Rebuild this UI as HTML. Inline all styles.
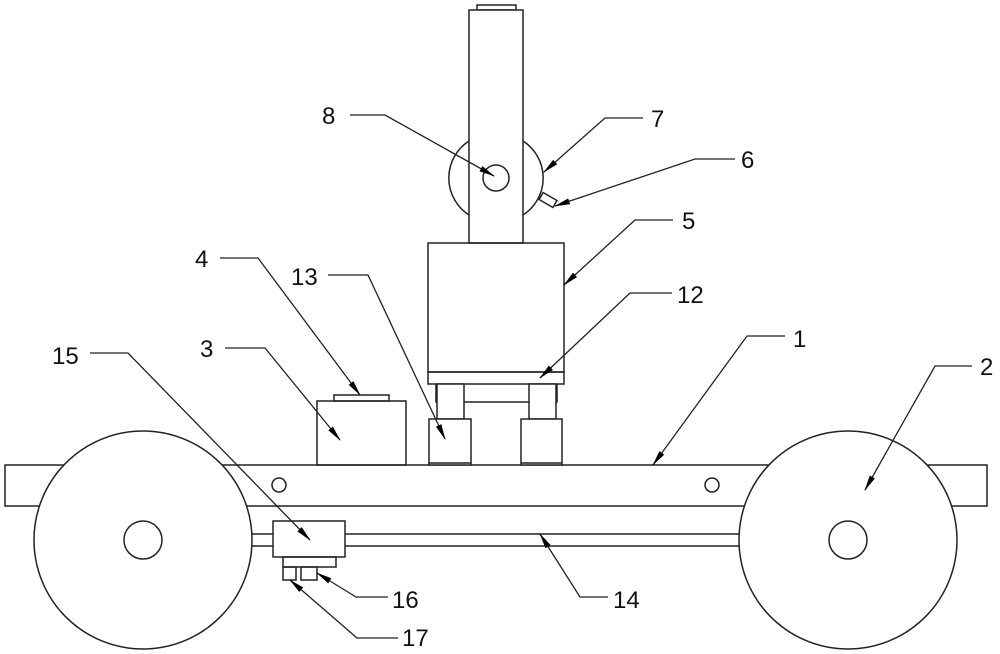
<!DOCTYPE html>
<html><head><style>body{margin:0;background:#fff}svg{display:block}text{font-family:"Liberation Sans",sans-serif;font-size:24px;fill:#111}</style></head>
<body>
<svg width="1000" height="654" viewBox="0 0 1000 654">
<defs><marker id="a" markerWidth="16" markerHeight="8" refX="15" refY="4" orient="auto" markerUnits="userSpaceOnUse"><path d="M0,1 L16,4 L0,7z" fill="#000"/></marker></defs>
<g fill="none" stroke="#222" stroke-width="1.5">
<rect x="5" y="465" width="982" height="41" fill="#fff"/>
<rect x="250" y="534" width="492" height="12" fill="#fff"/>
<circle cx="143" cy="540" r="109" fill="#fff"/>
<circle cx="143" cy="540" r="19"/>
<circle cx="848" cy="540" r="109" fill="#fff"/>
<circle cx="848" cy="540" r="19"/>
<circle cx="279" cy="485" r="7"/>
<circle cx="712" cy="485" r="7"/>
<rect x="273" y="521" width="72" height="36" fill="#fff"/>
<rect x="283" y="557" width="53" height="10"/>
<rect x="283" y="567" width="13" height="13"/>
<rect x="301" y="567" width="16" height="13"/>
<rect x="317" y="401" width="89" height="64"/>
<rect x="334" y="395" width="55" height="6"/>
<rect x="477" y="5" width="39" height="5"/>
<path d="M469,141 A44,44 0 0 0 469,215"/>
<path d="M523,141 A44,44 0 0 1 523,215"/>
<rect x="469" y="10" width="54" height="233" fill="#fff"/>
<circle cx="496" cy="178" r="13"/>
<rect x="540" y="196" width="16" height="8" transform="rotate(30 548 200)"/>
<rect x="428" y="243" width="136" height="129"/>
<rect x="428" y="372" width="136" height="12"/>
<path d="M436,384 V402 H557 V384"/>
<rect x="437" y="384" width="27" height="35" fill="#fff"/>
<rect x="529" y="384" width="27" height="35" fill="#fff"/>
<rect x="429" y="419" width="42" height="46" fill="#fff"/>
<rect x="521" y="419" width="41" height="46" fill="#fff"/>
<line x1="429" y1="463" x2="471" y2="463"/>
<line x1="521" y1="463" x2="562" y2="463"/>
</g>
<g fill="none" stroke="#222" stroke-width="1.3" marker-end="url(#a)">
<polyline points="350,115 385,115 494,176"/>
<polyline points="643,118 605,118 544,172"/>
<polyline points="735,159 695,159 555,206"/>
<polyline points="673,220 635,220 564,285"/>
<polyline points="672,293 630,293 540,378"/>
<polyline points="785,336 747,336 653,465"/>
<polyline points="972,366 935,366 865,490"/>
<polyline points="220,258 258,258 360,395"/>
<polyline points="328,275 368,275 445,439"/>
<polyline points="225,348 265,348 340,440"/>
<polyline points="90,353 128,353 310,540"/>
<polyline points="388,597 356,597 317,573"/>
<polyline points="398,638 357,638 290,580"/>
<polyline points="608,597 580,597 540,534"/>
</g>
<g>
<text x="322" y="124">8</text>
<text x="651" y="127">7</text>
<text x="741" y="168">6</text>
<text x="682" y="229">5</text>
<text x="677" y="303">12</text>
<text x="793" y="347">1</text>
<text x="980" y="375">2</text>
<text x="195" y="267">4</text>
<text x="291" y="285">13</text>
<text x="200" y="357">3</text>
<text x="52" y="364">15</text>
<text x="392" y="608">16</text>
<text x="402" y="646">17</text>
<text x="613" y="608">14</text>
</g>
</svg>
</body></html>
